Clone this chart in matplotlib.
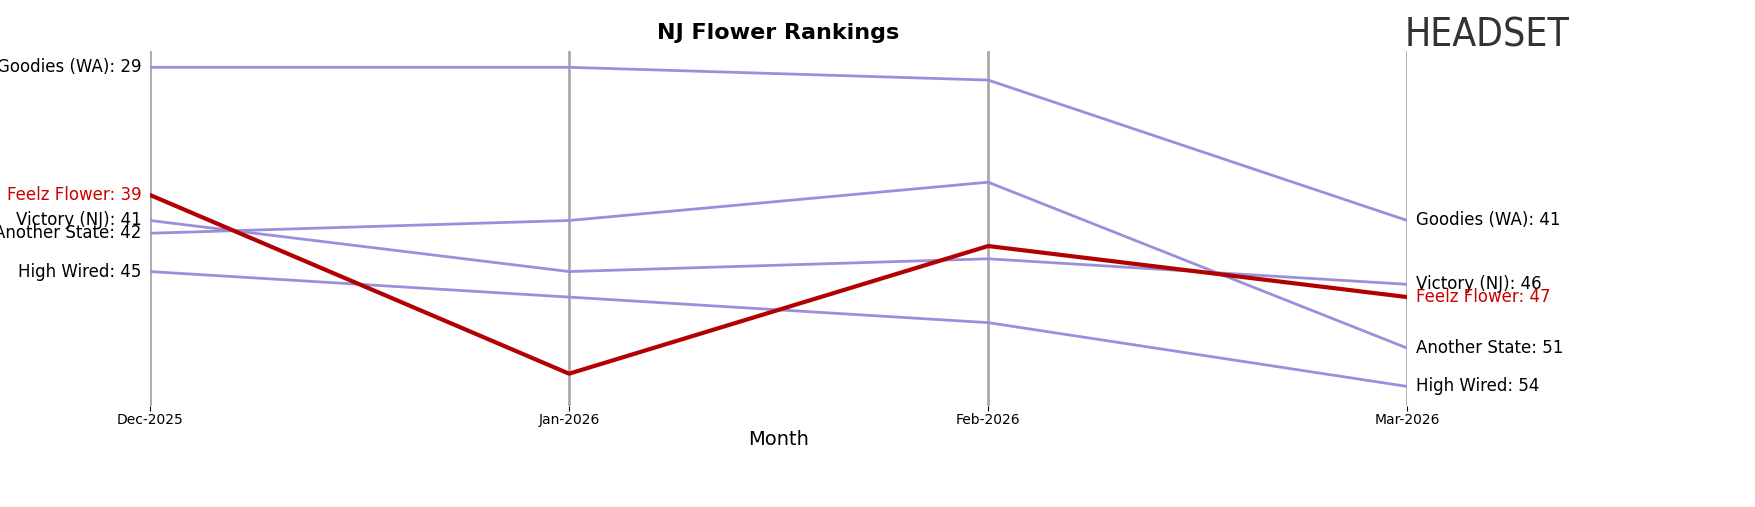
import matplotlib
matplotlib.use("Agg")
import matplotlib.pyplot as plt

months = ["Dec-2025", "Jan-2026", "Feb-2026", "Mar-2026"]
goodies = [29, 29, 30, 41]
feelz = [39, 53, 43, 47]
victory = [41, 45, 44, 46]
another = [42, 41, 38, 51]
highwired = [45, 47, 49, 54]

series = [("Goodies (WA)", goodies), ("Victory (NJ)", victory),
          ("Another State", another), ("High Wired", highwired)]

fig = plt.figure(figsize=(17.56, 5.07), dpi=100)
ax = fig.add_axes([0.0854, 0.2, 0.716, 0.7])
x = list(range(len(months)))
for xi in x:
    ax.axvline(xi, color="#aaaaaa", lw=2, zorder=0)
for name, vals in series:
    ax.plot(x, vals, color="#9b8fdc", lw=2)
    ax.text(-0.02, vals[0], f"{name}: {vals[0]}", ha="right", va="center", fontsize=12)
    ax.text(3.02, vals[-1], f"{name}: {vals[-1]}", ha="left", va="center", fontsize=12)
ax.plot(x, feelz, color="#b30000", lw=3)
ax.text(-0.02, feelz[0], f"Feelz Flower: {feelz[0]}", ha="right", va="center", fontsize=12, color="#cc0000")
ax.text(3.02, feelz[-1], f"Feelz Flower: {feelz[-1]}", ha="left", va="center", fontsize=12, color="#cc0000")

ax.set_ylim(55.5, 27.7)
ax.set_xlim(0, 3)
ax.set_xticks(x)
ax.set_xticklabels(months, fontsize=10)
ax.tick_params(axis="x", pad=2)
ax.set_yticks([])
for s in ax.spines.values():
    s.set_visible(False)
ax.set_xlabel("Month", fontsize=14, labelpad=2)
fig.text(0.443, 0.935, "NJ Flower Rankings", ha="center", va="center", fontsize=16, fontweight="bold")
fig.text(0.80, 0.93, "HEADSET", ha="left", va="center", fontsize=28, color="#333333", fontstretch="condensed")
fig.savefig("out.png", dpi=100)
